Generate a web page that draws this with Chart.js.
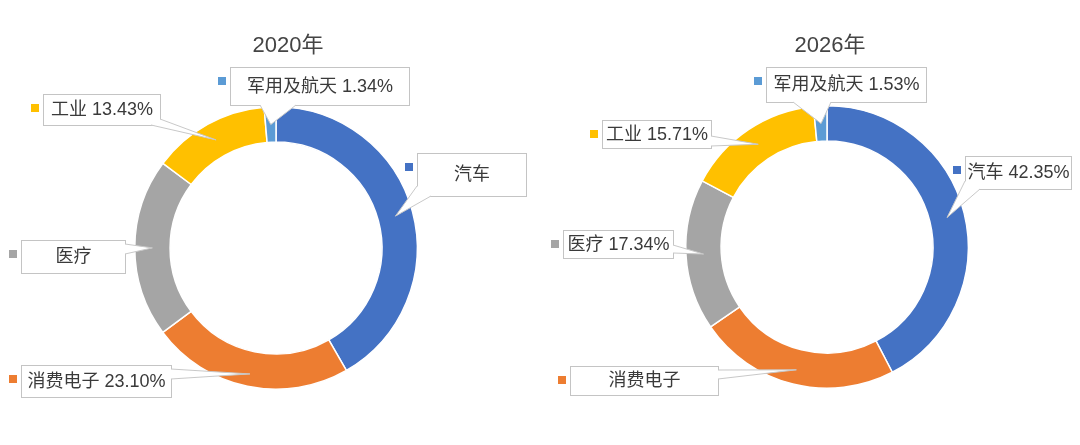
<!DOCTYPE html>
<html><head><meta charset="utf-8">
<script src="https://cdn.jsdelivr.net/npm/chart.js@4.4.0/dist/chart.umd.min.js"></script>
<style>
html,body{margin:0;padding:0;background:#fff;}
#wrap{position:relative;width:1080px;height:445px;overflow:hidden;background:#fff;}
canvas{position:absolute;top:0;}
</style></head><body>
<div id="wrap">
<canvas id="c1" width="540" height="445" style="left:0;width:540px;height:445px"></canvas>
<canvas id="c2" width="540" height="445" style="left:540px;width:540px;height:445px"></canvas>
</div>
<script>
// ---- data ----
const categories = ['汽车', '消费电子', '医疗', '工业', '军用及航天'];
const values2020 = [41.70, 23.10, 20.43, 13.43, 1.34];
const values2026 = [42.35, 23.07, 17.34, 15.71, 1.53];
const showPct2020 = [false, true, false, true, true];
const showPct2026 = [true, false, true, true, true];
const titles = ['2020年', '2026年'];
const colors = ['#4472C4', '#ED7D31', '#A5A5A5', '#FFC000', '#5B9BD5'];

// ---- layout (label boxes, wedge bases) ----
const layout2020 = {
  padding: {left: 134, right: 122, top: 106, bottom: 55},
  titleX: 288, titleY: 46,
  callouts: [
    {box: [417, 153, 109, 43], base: [[417, 186], [431, 196]], dr: 0},
    {box: [21, 365, 150, 32], base: [[171, 369], [171, 379]], dr: 5},
    {box: [21, 240, 104, 33], base: [[125, 244], [125, 254]], dr: 0},
    {box: [43, 94, 117, 31], base: [[151, 125], [160, 119]], dr: 0},
    {box: [230, 67, 179, 38], base: [[260, 105], [296, 105]], dr: 0}
  ]
};
const layout2026 = {
  padding: {left: 145, right: 111, top: 105, bottom: 56},
  titleX: 290, titleY: 46,
  callouts: [
    {box: [425, 156, 106, 33], base: [[425, 181], [440, 189]], dr: 0},
    {box: [30, 366, 148, 29], base: [[178, 370], [178, 379]], dr: 3},
    {box: [23, 230, 110, 28], base: [[133, 245], [133, 253]], dr: 0},
    {box: [62, 120, 109, 28], base: [[171, 136], [171, 146]], dr: 0},
    {box: [226, 67, 160, 35], base: [[253, 102], [291, 102]], dr: 0}
  ]
};

const FONT = '"Liberation Sans","Noto Sans CJK SC",Arial,sans-serif';

const calloutPlugin = {
  id: 'callouts',
  afterDatasetsDraw(chart, args, opts) {
    const ctx = chart.ctx;
    const L = opts.layout;
    const meta = chart.getDatasetMeta(0);
    ctx.save();
    ctx.font = '22px ' + FONT;
    ctx.fillStyle = '#444444';
    ctx.textAlign = 'center';
    ctx.textBaseline = 'middle';
    ctx.fillText(opts.title, L.titleX, L.titleY);

    meta.data.forEach((arc, i) => {
      const c = L.callouts[i];
      const p = arc.getProps(['x', 'y', 'startAngle', 'endAngle', 'innerRadius', 'outerRadius'], true);
      const a = (p.startAngle + p.endAngle) / 2;
      const r = (p.innerRadius + p.outerRadius) / 2 + (c.dr || 0);
      const tip = [p.x + Math.cos(a) * r, p.y + Math.sin(a) * r];
      const [bx, by, bw, bh] = c.box;
      // box
      ctx.fillStyle = '#ffffff';
      ctx.fillRect(bx, by, bw, bh);
      ctx.strokeStyle = '#C4C4C4';
      ctx.lineWidth = 1;
      ctx.strokeRect(bx + 0.5, by + 0.5, bw, bh);
      // wedge
      const [A, B] = c.base;
      ctx.beginPath();
      ctx.moveTo(A[0], A[1]);
      ctx.lineTo(tip[0], tip[1]);
      ctx.lineTo(B[0], B[1]);
      ctx.closePath();
      ctx.fillStyle = '#ffffff';
      ctx.fill();
      ctx.beginPath();
      ctx.moveTo(A[0], A[1]);
      ctx.lineTo(tip[0], tip[1]);
      ctx.lineTo(B[0], B[1]);
      ctx.strokeStyle = '#C8C8C8';
      ctx.stroke();
      // legend key
      ctx.fillStyle = colors[i];
      ctx.fillRect(bx - 12, by + 10, 8, 8);
      // text
      const v = opts.values[i];
      const txt = categories[i] + (opts.show[i] ? ' ' + v.toFixed(2) + '%' : '');
      ctx.font = '18px ' + FONT;
      ctx.fillStyle = '#3A3A3A';
      ctx.textAlign = 'center';
      ctx.textBaseline = 'middle';
      ctx.fillText(txt, bx + bw / 2 + 0.5, by + bh / 2 + 1);
    });
    ctx.restore();
  }
};

function makeChart(id, values, show, title, L) {
  return new Chart(document.getElementById(id), {
    type: 'doughnut',
    data: {
      labels: categories,
      datasets: [{
        data: values,
        backgroundColor: colors,
        borderColor: '#ffffff',
        borderWidth: 1.5,
        hoverOffset: 0
      }]
    },
    options: {
      responsive: false,
      animation: false,
      events: [],
      cutout: '75%',
      rotation: 0,
      layout: {padding: L.padding},
      plugins: {
        legend: {display: false},
        tooltip: {enabled: false},
        title: {display: false},
        callouts: {layout: L, values: values, show: show, title: title}
      }
    },
    plugins: [calloutPlugin]
  });
}

makeChart('c1', values2020, showPct2020, titles[0], layout2020);
makeChart('c2', values2026, showPct2026, titles[1], layout2026);
</script>
</body></html>
